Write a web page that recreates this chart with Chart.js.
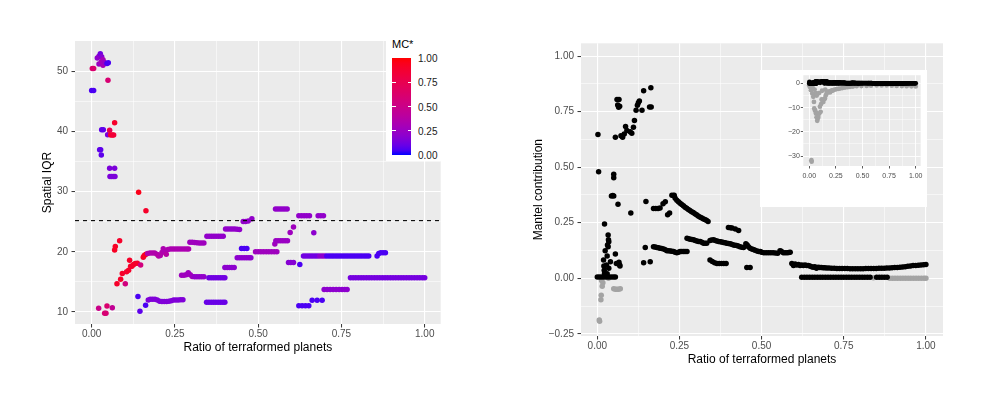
<!DOCTYPE html>
<html><head><meta charset="utf-8">
<script src="https://cdn.jsdelivr.net/npm/chart.js@4.4.1/dist/chart.umd.min.js"></script>
<style>
html,body{margin:0;padding:0;background:#fff;width:1000px;height:398px;overflow:hidden;font-family:"Liberation Sans",Arial,Helvetica,sans-serif}
canvas{position:absolute;display:block}
.abs{position:absolute}
#legendBox{left:386px;top:33px;width:55px;height:128px;background:#fff}
#legendTitle{left:392px;top:39px;font-size:11px;line-height:11px;color:#000;white-space:nowrap}
#colorbar{left:392px;top:58.3px;width:19.3px;height:96.7px}
.cbl{left:418px;font-size:10px;line-height:10px;color:#1a1a1a;white-space:nowrap}
.cbt{height:1px;width:3.5px;background:#fff}
</style></head><body>
<canvas id="leftChart" width="500" height="398" style="left:0;top:0"></canvas>
<canvas id="rightChart" width="500" height="398" style="left:500px;top:0"></canvas>
<canvas id="insetChart" width="167" height="137" style="left:760px;top:70px"></canvas>
<div id="legendBox" class="abs"></div>
<div id="legendTitle" class="abs">MC*</div>
<div id="colorbar" class="abs"></div>
<div id="cbLabels"></div>
<script>
// ---------------- DATA ----------------
// Left panel: ratio of terraformed planets, spatial IQR, MC* colour value
const iqrRatio = [
 0.000,0.006,0.002,0.006,0.017,0.022,0.026,0.030,0.022,0.029,0.034,0.034,0.038,0.046,0.050,0.049,
 0.030,0.035,0.048,0.054,0.057,0.062,0.066,0.069,0.024,0.027,0.029,0.054,0.069,0.055,0.060,0.065,0.070,
 0.141,0.163,0.069,0.071,0.084,0.076,0.087,0.092,0.101,0.105,0.111,0.114,0.117,0.121,0.126,0.131,0.137,0.147,0.155,0.158,0.163,
 0.168,0.175,0.182,0.189,0.196,0.201,0.206,0.211,0.215,0.220,0.224,0.229,0.236,0.243,0.250,0.257,0.264,0.271,0.278,0.285,0.291,
 0.295,0.302,0.309,0.316,0.323,0.330,0.337,
 0.346,0.353,0.360,0.367,0.374,0.381,0.388,0.395,
 0.402,0.409,0.416,0.423,0.430,0.437,0.444,
 0.455,0.462,0.470,0.481,
 0.270,0.277,0.284,0.290,0.296,0.302,
 0.309,0.316,0.323,0.330,0.337,
 0.352,0.359,0.366,0.373,0.380,0.387,0.394,0.400,
 0.400,0.407,0.414,0.421,0.428,
 0.437,0.444,0.451,0.458,0.465,0.472,0.478,
 0.450,0.458,0.466,
 0.139,0.145,0.162,
 0.170,0.176,0.183,0.190,0.197,
 0.204,0.211,0.218,0.225,0.232,0.239,
 0.246,0.253,0.260,0.267,0.274,
 0.345,0.352,0.359,0.366,0.373,0.380,0.387,0.394,0.400,
 0.021,0.039,0.043,0.046,0.062,
 0.552,0.559,0.566,0.573,0.580,0.587,
 0.622,0.630,0.638,0.646,0.654,
 0.680,0.688,0.696,
 0.596,0.606,0.667,
 0.550,0.553,0.560,0.567,0.574,0.581,0.588,
 0.492,0.500,0.508,0.516,0.524,0.532,0.540,0.548,0.556,
 0.591,0.598,0.606,0.625,
 0.636,0.643,0.650,0.657,0.664,0.671,0.678,0.685,0.692,0.699,0.706,0.713,0.720,0.727,0.734,0.741,0.748,0.755,0.762,0.769,0.776,0.783,0.790,0.797,0.804,0.811,0.818,0.825,0.832,
 0.857,0.862,0.868,0.875,0.882,
 0.777,0.785,0.793,0.801,0.809,0.817,0.825,0.833,0.841,0.849,0.857,0.865,0.873,0.881,0.889,0.897,0.905,0.913,0.921,0.929,0.937,0.945,0.953,0.961,0.969,0.977,0.985,0.993,1.000,
 0.698,0.707,0.716,0.725,0.734,0.743,0.752,0.760,0.767,
 0.662,0.677,0.692,
 0.622,0.632,0.642,0.652
];
const iqrValue = [
 46.8,46.8,50.45,50.45,52.2,52.5,52.9,52.4,51.2,51.6,51.9,51.0,51.5,51.3,51.4,48.5,
 40.3,40.3,39.45,40.2,39.4,39.4,39.4,41.45,36.95,36.95,36.1,33.9,33.9,32.5,32.5,32.5,32.5,
 29.9,26.8,20.3,20.9,21.85,14.7,15.45,16.4,14.7,16.7,16.95,18.6,17.6,17.6,17.9,18.05,18.1,17.8,19.1,19.4,19.6,
 19.7,19.8,19.8,19.8,19.6,19.3,19.4,19.9,20.5,20.0,19.6,20.4,20.45,20.45,20.45,20.45,20.45,20.45,20.45,20.45,20.45,
 21.6,21.6,21.55,21.5,21.45,21.45,21.45,
 22.6,22.6,22.6,22.6,22.6,22.6,22.6,22.6,
 23.8,23.8,23.8,23.8,23.8,23.75,23.7,
 25.05,25.05,25.1,25.5,
 16.1,16.1,16.2,16.5,16.2,15.9,
 15.85,15.85,15.85,15.85,15.85,
 15.7,15.7,15.7,15.7,15.7,15.7,15.7,15.7,
 17.4,17.4,17.4,17.4,17.4,
 19.0,19.0,19.0,19.0,19.0,19.0,19.0,
 20.55,20.55,20.55,
 12.55,10.1,11.1,
 12.0,12.1,12.1,12.1,12.0,
 11.8,11.75,11.75,11.75,11.8,11.85,
 12.0,12.0,12.0,12.05,12.05,
 11.6,11.6,11.6,11.6,11.6,11.6,11.6,11.6,11.6,
 10.6,9.8,9.8,11.0,10.7,
 27.1,27.1,27.1,27.1,27.1,27.1,
 26.0,26.0,26.0,26.0,26.0,
 26.0,26.0,26.0,
 23.2,24.1,23.15,
 21.3,21.85,21.85,21.85,21.85,21.85,21.85,
 20.0,20.0,20.0,20.0,20.0,20.0,20.0,20.0,20.0,
 18.2,18.2,18.2,17.9,
 19.3,19.3,19.3,19.3,19.3,19.3,19.3,19.3,19.3,19.3,19.3,19.3,19.3,19.3,19.3,19.3,19.3,19.3,19.3,19.3,19.3,19.3,19.3,19.3,19.3,19.3,19.3,19.3,19.3,
 19.3,19.7,19.85,19.85,19.85,
 15.7,15.7,15.7,15.7,15.7,15.7,15.7,15.7,15.7,15.7,15.7,15.7,15.7,15.7,15.7,15.7,15.7,15.7,15.7,15.7,15.7,15.7,15.7,15.7,15.7,15.7,15.7,15.7,15.7,
 13.75,13.75,13.75,13.75,13.75,13.75,13.75,13.75,13.75,
 11.95,11.95,11.95,
 11.05,11.05,11.05,11.05
];
const iqrMC = [
 .05,.05,.62,.62,.20,.22,.12,.18,.25,.30,.30,.30,.25,.05,.05,.60,
 .08,.08,.15,.75,.85,.88,.85,.90,.08,.08,.08,.15,.15,.15,.15,.15,.15,
 .95,.90,.92,.92,.90,.90,.90,.90,.55,.88,.90,.90,.90,.90,.90,.90,.90,.55,.90,.92,.92,
 .38,.35,.35,.35,.35,.38,.35,.35,.33,.33,.38,.33,.33,.33,.33,.33,.33,.33,.33,.33,.33,
 .27,.27,.27,.27,.27,.27,.27,
 .22,.22,.22,.22,.22,.22,.22,.22,
 .22,.22,.22,.22,.22,.22,.22,
 .22,.22,.22,.22,
 .27,.27,.27,.27,.27,.27,
 .22,.22,.22,.22,.22,
 .12,.12,.12,.12,.12,.12,.12,.12,
 .20,.20,.20,.20,.20,
 .20,.20,.20,.20,.20,.20,.20,
 .05,.05,.05,
 .05,.08,.05,
 .16,.16,.16,.16,.16,
 .16,.16,.16,.16,.16,.16,
 .16,.16,.16,.16,.16,
 .10,.10,.10,.10,.10,.10,.10,.10,.10,
 .50,.60,.60,.62,.45,
 .22,.22,.22,.22,.22,.22,
 .22,.22,.22,.22,.22,
 .22,.22,.22,
 .27,.27,.20,
 .27,.25,.25,.25,.25,.25,.25,
 .27,.27,.27,.27,.27,.27,.27,.27,.27,
 .18,.18,.18,.05,
 .12,.12,.12,.12,.12,.12,.12,.20,.20,.20,.05,.05,.05,.05,.05,.05,.05,.05,.05,.05,.05,.05,.05,.05,.05,.05,.05,.05,.05,
 .05,.05,.05,.05,.05,
 .13,.13,.13,.13,.13,.13,.13,.13,.13,.13,.13,.13,.13,.13,.13,.13,.13,.13,.13,.13,.13,.13,.13,.13,.13,.13,.13,.13,.13,
 .20,.20,.20,.20,.20,.20,.20,.20,.20,
 .05,.05,.05,
 .05,.05,.05,.05
];
const iqrThreshold = 25.18;

// Right panel: Mantel contribution (black series)
const mantelRatio = [
 0.002,0.004,0.050,0.050,0.043,0.047,0.050,0.063,0.060,0.066,0.062,0.068,0.065,0.055,0.072,0.077,0.082,0.086,0.090,0.100,0.105,0.110,0.113,0.118,0.122,0.125,0.128,0.136,0.141,0.163,0.159,0.164,
 0.102,0.148,0.171,0.178,0.185,0.191,0.200,0.207,0.214,0.220,0.227,0.234,
 0.232,0.237,0.242,0.247,0.252,0.257,0.262,0.267,0.272,0.277,0.282,0.287,0.292,0.297,0.302,0.307,0.312,0.317,0.322,0.327,0.332,0.337,
 0.022,0.033,0.034,0.035,0.033,0.031,0.024,0.019,0.020,0.021,0.022,0.040,0.030,0.028,0.035,0.055,0.058,0.064,0.068,0.069,0.066,
 0.000,0.007,0.014,0.021,0.028,0.035,0.042,0.049,0.055,0.030,
 0.141,0.161,
 0.146,0.171,0.176,0.181,0.186,0.191,0.196,0.202,0.207,0.212,0.217,0.222,0.227,0.232,0.237,0.242,0.247,0.252,0.257,0.262,0.267,0.273,
 0.273,0.278,0.283,0.288,0.293,0.298,0.303,0.308,0.313,0.318,0.323,0.328,0.333,
 0.343,0.348,0.354,0.359,0.364,0.369,0.374,0.379,0.384,0.389,0.394,0.399,0.404,0.409,0.414,0.419,0.424,0.429,0.434,0.440,0.445,
 0.452,0.456,0.460,0.465,0.470,0.475,0.480,0.486,0.491,0.496,
 0.500,0.507,0.514,0.521,0.528,0.535,0.542,0.549,0.556,0.560,0.566,0.572,0.578,0.583,0.587,
 0.343,0.350,0.357,0.364,0.371,0.378,0.385,0.392,
 0.399,0.405,0.410,0.420,0.430,
 0.455,0.465,
 0.592,0.597,0.602,0.607,0.612,0.617,0.622,0.627,0.632,0.637,0.642,0.647,0.652,0.657,0.662,0.667,0.672,0.677,0.682,0.687,0.692,0.698,
 0.705,0.713,0.721,0.729,0.737,0.745,0.753,0.761,0.769,0.777,0.785,0.793,0.801,0.809,0.817,0.825,0.833,0.841,0.849,0.857,0.865,0.873,0.881,0.889,0.897,0.905,0.913,0.921,0.929,0.937,0.945,0.953,0.961,0.969,0.977,0.985,0.993,1.000,
 0.622,0.630,0.638,0.646,0.654,0.662,0.670,0.678,0.686,0.694,0.702,0.710,0.718,0.726,0.734,0.742,0.750,0.758,0.766,0.774,0.782,0.790,0.798,0.806,0.814,0.822,0.830,0.850,0.858,0.866,0.874,0.882
];
const mantelValue = [
 0.647,0.480,0.468,0.453,0.370,0.373,0.370,0.333,0.805,0.805,0.780,0.775,0.770,0.635,0.642,0.635,0.650,0.683,0.665,0.660,0.653,0.680,0.710,0.756,0.779,0.790,0.798,0.756,0.844,0.858,0.771,0.771,
 0.294,0.346,0.314,0.314,0.314,0.316,0.336,0.344,0.286,0.294,0.374,0.374,
 0.373,0.360,0.351,0.345,0.338,0.332,0.326,0.320,0.315,0.310,0.305,0.300,0.296,0.291,0.286,0.280,0.276,0.272,0.268,0.265,0.261,0.256,
 0.244,0.195,0.173,0.164,0.142,0.150,0.124,0.082,0.055,0.036,0.021,0.074,0.100,0.060,0.045,0.109,0.067,0.067,0.060,0.055,0.072,
 0.006,0.006,0.006,0.006,0.006,0.006,0.006,0.006,0.006,0.020,
 0.070,0.074,
 0.138,0.142,0.141,0.139,0.137,0.135,0.134,0.132,0.128,0.124,0.124,0.123,0.122,0.120,0.117,0.115,0.117,0.121,0.121,0.121,0.121,0.121,
 0.180,0.178,0.176,0.175,0.173,0.170,0.168,0.166,0.165,0.162,0.158,0.158,0.158,
 0.170,0.172,0.173,0.170,0.168,0.166,0.164,0.163,0.161,0.160,0.158,0.157,0.155,0.153,0.150,0.149,0.147,0.145,0.142,0.140,0.138,
 0.155,0.150,0.142,0.135,0.132,0.129,0.126,0.123,0.121,0.120,
 0.117,0.115,0.115,0.115,0.115,0.115,0.114,0.113,0.124,0.122,0.115,0.115,0.115,0.116,0.117,
 0.082,0.075,0.070,0.067,0.067,0.067,0.067,0.067,
 0.229,0.228,0.226,0.222,0.215,
 0.049,0.049,
 0.067,0.058,0.064,0.060,0.062,0.058,0.060,0.058,0.060,0.057,0.058,0.055,0.052,0.050,0.052,0.045,0.050,0.048,0.048,0.047,0.047,0.046,
 0.046,0.045,0.045,0.044,0.044,0.044,0.044,0.044,0.043,0.043,0.043,0.043,0.043,0.043,0.044,0.044,0.044,0.044,0.044,0.045,0.045,0.045,0.046,0.046,0.047,0.048,0.049,0.050,0.051,0.052,0.054,0.055,0.057,0.058,0.059,0.060,0.061,0.062,
 0.005,0.005,0.005,0.005,0.005,0.005,0.005,0.005,0.005,0.005,0.005,0.005,0.005,0.005,0.005,0.005,0.005,0.005,0.005,0.005,0.005,0.005,0.005,0.005,0.005,0.005,0.005,0.005,0.005,0.005,0.005,0.005
];
// Right panel: grey series
const mantelGrayRatio = [0.017,0.015,0.013,0.012,0.011,0.007,0.006,0.034,0.050,0.055,0.060,0.065,0.070,0.840,
 0.890,0.898,0.906,0.914,0.922,0.930,0.938,0.946,0.954,0.962,0.970,0.978,0.986,0.994,1.000];
const mantelGrayValue = [-0.020,-0.036,-0.010,-0.077,-0.097,-0.194,-0.188,0.000,-0.047,-0.050,-0.050,-0.050,-0.047,0.002,
 0.000,0.000,0.000,0.000,0.000,0.000,0.000,0.000,0.000,0.000,0.000,0.000,0.000,0.000,0.000];
// Inset: grey series on its full range
const insetGrayRatio = [0.000,0.006,0.016,0.028,0.038,0.044,0.047,0.053,0.058,0.063,0.069,0.075,0.080,0.085,0.094,0.100,0.107,0.111,0.116,0.124,0.132,0.140,0.147,0.155,0.163,0.171,0.179,0.186,0.194,0.202,0.210,0.218,0.226,0.240,0.257,0.272,0.288,0.310,0.335,0.360,0.382,0.410,0.445,0.490,0.539,0.580,0.633,0.680,0.727,0.775,0.821,0.870,0.915,0.960,1.000,0.022,0.020,0.030,0.050,0.060,0.070,0.090,0.120,0.150];
const insetGrayValue = [-0.7,-1.4,-2.75,-4.1,-5.5,-7.6,-10.3,-11.0,-11.5,-12.4,-14.0,-15.4,-14.5,-13.8,-12.4,-9.6,-11.7,-8.5,-6.6,-7.0,-7.6,-6.5,-6.2,-5.0,-4.1,-3.6,-3.4,-3.5,-3.7,-3.2,-3.0,-2.9,-2.75,-2.5,-2.3,-2.2,-2.1,-1.9,-1.65,-1.5,-1.4,-1.25,-1.1,-1.05,-1.0,-0.9,-0.8,-0.8,-0.8,-0.9,-1.0,-1.05,-1.1,-1.15,-1.2,-32.3,-31.7,-1.5,-2.5,-4.0,-5.0,-4.0,-3.0,-2.5];

// Tick positions (major + minor grid)
const leftXTicks = [0,0.125,0.25,0.375,0.5,0.625,0.75,0.875,1];
const leftYTicks = [10,15,20,25,30,35,40,45,50];
const rightXTicks = [0,0.125,0.25,0.375,0.5,0.625,0.75,0.875,1];
const rightYTicks = [-0.25,-0.125,0,0.125,0.25,0.375,0.5,0.625,0.75,0.875,1];
const insetXTicks = [0,0.125,0.25,0.375,0.5,0.625,0.75,0.875,1];
const insetYTicks = [-30,-25,-20,-15,-10,-5,0];
const legendTicks = [0,0.25,0.5,0.75,1];

// ---------------- CHECK ----------------
function chk(a,b,n){ if(a.length!==b.length) throw new Error(n+' length mismatch '+a.length+' vs '+b.length); }
chk(iqrRatio,iqrValue,'iqr'); chk(iqrRatio,iqrMC,'mc'); chk(mantelRatio,mantelValue,'mantel');
chk(mantelGrayRatio,mantelGrayValue,'gray'); chk(insetGrayRatio,insetGrayValue,'inset');

// ---------------- COLOUR (Lab interpolation blue -> red) ----------------
function s2l(c){c/=255;return c<=0.04045?c/12.92:Math.pow((c+0.055)/1.055,2.4);}
function l2s(c){c=c<=0.0031308?12.92*c:1.055*Math.pow(c,1/2.4)-0.055;return Math.round(Math.max(0,Math.min(1,c))*255);}
function rgb2lab(r,g,b){const R=s2l(r),G=s2l(g),B=s2l(b);
 const X=(0.4124*R+0.3576*G+0.1805*B)/0.95047,Y=0.2126*R+0.7152*G+0.0722*B,Z=(0.0193*R+0.1192*G+0.9505*B)/1.08883;
 const f=t=>t>0.008856?Math.cbrt(t):7.787*t+16/116; const fx=f(X),fy=f(Y),fz=f(Z);
 return [116*fy-16,500*(fx-fy),200*(fy-fz)];}
function lab2rgb(L,a,b){const fy=(L+16)/116,fx=fy+a/500,fz=fy-b/200;
 const fi=t=>t*t*t>0.008856?t*t*t:(t-16/116)/7.787;
 const X=fi(fx)*0.95047,Y=fi(fy),Z=fi(fz)*1.08883;
 return [l2s(3.2406*X-1.5372*Y-0.4986*Z),l2s(-0.9689*X+1.8758*Y+0.0415*Z),l2s(0.0557*X-0.2040*Y+1.0570*Z)];}
const LOW=rgb2lab(0,0,255), HIGH=rgb2lab(255,0,0);
function mcColor(t){const c=lab2rgb(LOW[0]+(HIGH[0]-LOW[0])*t,LOW[1]+(HIGH[1]-LOW[1])*t,LOW[2]+(HIGH[2]-LOW[2])*t);return 'rgb('+c.join(',')+')';}

// ---------------- LEGEND (HTML) ----------------
(function(){
 const stops=[];for(let i=0;i<=20;i++){stops.push(mcColor(i/20)+' '+(i*5)+'%');}
 document.getElementById('colorbar').style.background='linear-gradient(to top,'+stops.join(',')+')';
 const holder=document.getElementById('cbLabels');
 legendTicks.forEach(v=>{
   const cy=155.8-96.7*v;
   const s=document.createElement('div');s.className='abs cbl';s.style.top=(cy-4.9)+'px';s.textContent=v.toFixed(2);holder.appendChild(s);
   if(v>0&&v<1){const ty=155-96.7*v-0.5;
     const a=document.createElement('div');a.className='abs cbt';a.style.left='392px';a.style.top=ty+'px';holder.appendChild(a);
     const b=document.createElement('div');b.className='abs cbt';b.style.left='407.8px';b.style.top=ty+'px';holder.appendChild(b);}
 });
})();

// ---------------- CHART HELPERS ----------------
const FONT='"Liberation Sans", Arial, Helvetica, sans-serif';
Chart.defaults.font.family=FONT;
function near(v,s){return Math.abs(v/s-Math.round(v/s))<1e-6;}
function axis(o){
 return {
  type:'linear',position:o.position,min:o.min,max:o.max,
  afterBuildTicks:ax=>{ax.ticks=o.ticks.map(v=>({value:v}));},
  afterFit:ax=>{if(o.position==='bottom')ax.height=o.size;else ax.width=o.size;},
  border:{display:false},
  grid:{color:'#FFFFFF',
    lineWidth:c=>(c.tick&&near(c.tick.value,o.major))?o.majorW:o.minorW,
    tickColor:c=>(c.tick&&near(c.tick.value,o.major))?'#333333':'rgba(0,0,0,0)',
    tickWidth:o.tickW,tickLength:o.tickLen,drawTicks:true},
  ticks:{autoSkip:false,maxRotation:0,minRotation:0,padding:o.pad,color:'#4D4D4D',
    font:{family:FONT,size:o.fontSize},
    callback:v=>near(v,o.major)?o.fmt(v):''},
  title:o.title?{display:true,text:o.title,color:'#000000',font:{family:FONT,size:12},padding:o.titlePad}:{display:false}
 };
}
function panelPlugin(fillAll){
 return {id:'panel'+(fillAll?'W':''),beforeDraw(chart){const {ctx,chartArea:a}=chart;ctx.save();
  if(fillAll){ctx.fillStyle='#FFFFFF';ctx.fillRect(0,0,chart.width,chart.height);}
  ctx.fillStyle='#EBEBEB';ctx.fillRect(a.left,a.top,a.right-a.left,a.bottom-a.top);ctx.restore();}};
}
const fmt2=v=>(v<0?'\u2212':'')+Math.abs(v).toFixed(2);
const fmtInt=v=>(v<0?'\u2212':'')+Math.abs(v).toFixed(0);
const baseOpts={responsive:false,animation:false,events:[],plugins:{legend:{display:false},tooltip:{enabled:false}}};

// ---------------- LEFT CHART ----------------
const leftX={min:-0.050,max:1.048}, leftY={min:8.0,max:55.03};
new Chart(document.getElementById('leftChart'),{
 type:'scatter',
 data:{datasets:[
  {type:'line',data:[{x:leftX.min,y:iqrThreshold},{x:leftX.max,y:iqrThreshold}],borderColor:'#000',borderWidth:1.1,borderDash:[4,4],pointRadius:0,order:0},
  {data:iqrRatio.map((x,i)=>({x:x,y:iqrValue[i]})),backgroundColor:iqrMC.map(mcColor),pointRadius:2.75,borderWidth:0,order:1}
 ]},
 options:Object.assign({},baseOpts,{
  layout:{padding:{left:0,right:59.3,top:41,bottom:0}},
  scales:{
   x:axis({position:'bottom',min:leftX.min,max:leftX.max,ticks:leftXTicks,major:0.25,fmt:fmt2,size:74,fontSize:10,pad:1,tickLen:3.5,tickW:1,majorW:1.1,minorW:0.55,title:'Ratio of terraformed planets',titlePad:{top:0,bottom:42.8}}),
   y:axis({position:'left',min:leftY.min,max:leftY.max,ticks:leftYTicks,major:10,fmt:fmtInt,size:75,fontSize:10,pad:3.5,tickLen:3.5,tickW:1,majorW:1.1,minorW:0.55,title:'Spatial IQR',titlePad:{top:40.8,bottom:0}})
  }
 }),
 plugins:[panelPlugin(false)]
});

// ---------------- RIGHT CHART ----------------
new Chart(document.getElementById('rightChart'),{
 type:'scatter',
 data:{datasets:[
  {data:mantelRatio.map((x,i)=>({x:x,y:mantelValue[i]})),backgroundColor:'#000000',pointRadius:2.75,borderWidth:0,order:0},
  {data:mantelGrayRatio.map((x,i)=>({x:x,y:mantelGrayValue[i]})),backgroundColor:'#A3A3A3',pointRadius:2.75,borderWidth:0,order:1}
 ]},
 options:Object.assign({},baseOpts,{
  layout:{padding:{left:0,right:57,top:43.3,bottom:0}},
  scales:{
   x:axis({position:'bottom',min:-0.0496,max:1.052,ticks:rightXTicks,major:0.25,fmt:fmt2,size:62,fontSize:10,pad:1,tickLen:3.5,tickW:1,majorW:1.1,minorW:0.55,title:'Ratio of terraformed planets',titlePad:{top:0,bottom:31.4}}),
   y:axis({position:'left',min:-0.26,max:1.058,ticks:rightYTicks,major:0.25,fmt:fmt2,size:81,fontSize:10,pad:3.5,tickLen:3.5,tickW:1,majorW:1.1,minorW:0.55,title:'Mantel contribution',titlePad:{top:31.6,bottom:0}})
  }
 }),
 plugins:[panelPlugin(false)]
});

// ---------------- INSET CHART ----------------
new Chart(document.getElementById('insetChart'),{
 type:'scatter',
 data:{datasets:[
  {data:mantelRatio.map((x,i)=>({x:x,y:mantelValue[i]})),backgroundColor:'#000000',pointRadius:2.4,borderWidth:0,order:0},
  {data:insetGrayRatio.map((x,i)=>({x:x,y:insetGrayValue[i]})),backgroundColor:'#A3A3A3',pointRadius:2.4,borderWidth:0,order:1}
 ]},
 options:Object.assign({},baseOpts,{
  layout:{padding:{left:0,right:6.3,top:5,bottom:0}},
  scales:{
   x:axis({position:'bottom',min:-0.056,max:1.047,ticks:insetXTicks,major:0.25,fmt:fmt2,size:41,fontSize:7,pad:3.5,tickLen:2.5,tickW:0.8,majorW:0.9,minorW:0.45}),
   y:axis({position:'left',min:-34.1,max:3.43,ticks:insetYTicks,major:10,fmt:fmtInt,size:43.3,fontSize:7,pad:1,tickLen:2.5,tickW:0.8,majorW:0.9,minorW:0.45})
  }
 }),
 plugins:[panelPlugin(true)]
});
</script>
</body></html>
